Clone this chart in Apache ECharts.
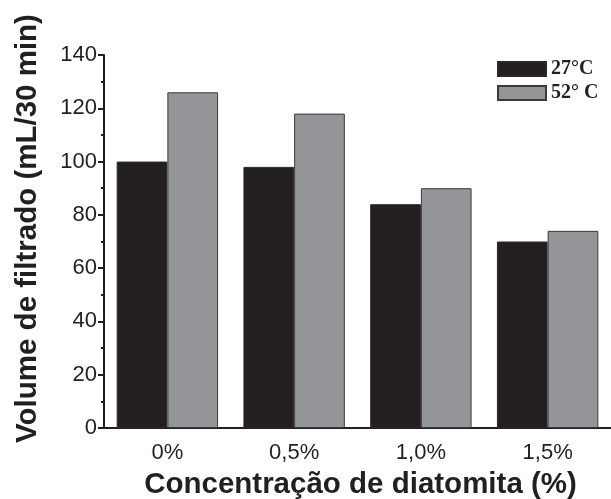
<!DOCTYPE html>
<html>
<head>
<meta charset="utf-8">
<script src="https://cdn.jsdelivr.net/npm/echarts@6/dist/echarts.min.js"></script>
<style>html,body{margin:0;padding:0;background:#fff;}#c{width:611px;height:499px;}</style>
</head>
<body>
<div id="c"></div>
<script>
const categories = ['0%', '0,5%', '1,0%', '1,5%'];
const seriesNames = ['27°C', '52° C'];
const values27 = [100, 98, 84, 70];
const values52 = [126, 118, 90, 74];

const ink = '#231f20';
const chart = echarts.init(document.getElementById('c'), null, {renderer: 'canvas'});
chart.setOption({
  animation: false,
  backgroundColor: '#fff',
  grid: {left: 104, right: 0, top: 55, bottom: 71, containLabel: false, outerBoundsMode: 'none'},
  legend: {
    orient: 'vertical', left: 497, top: 59, itemWidth: 48, itemHeight: 14, itemGap: 4,
    padding: 0, icon: 'rect',
    textStyle: {fontFamily: 'Liberation Serif', fontWeight: 'bold', fontSize: 20, color: ink},
    data: seriesNames
  },
  xAxis: [{
    type: 'category', data: categories, position: 'bottom',
    axisLine: {lineStyle: {color: ink, width: 2}},
    axisTick: {alignWithLabel: true, length: 6, lineStyle: {color: ink, width: 2}},
    axisLabel: {fontFamily: 'Liberation Sans', fontSize: 22, color: ink, margin: 14},
    name: 'Concentração de diatomita (%)', nameLocation: 'middle', nameGap: 42,
    nameTextStyle: {fontFamily: 'Liberation Sans', fontWeight: 'bold', fontSize: 29.5, color: ink, padding: [0, 0, 0, 6]}
  }, {
    type: 'category', data: categories, position: 'bottom',
    axisLine: {show: false},
    axisTick: {length: 3, lineStyle: {color: ink, width: 2}},
    axisLabel: {show: false}
  }],
  yAxis: {
    type: 'value', min: 0, max: 140, interval: 20,
    axisLine: {show: true, lineStyle: {color: ink, width: 2}},
    axisTick: {show: true, length: 6, lineStyle: {color: ink, width: 2}},
    minorTick: {show: true, splitNumber: 2, length: 3, lineStyle: {color: ink, width: 2}},
    splitLine: {show: false},
    axisLabel: {fontFamily: 'Liberation Sans', fontSize: 22, color: ink, margin: 7},
    name: 'Volume de filtrado (mL/30 min)', nameLocation: 'middle', nameGap: 61,
    nameTextStyle: {fontFamily: 'Liberation Sans', fontWeight: 'bold', fontSize: 29.5, color: ink, padding: [0, 0, 0, 26]}
  },
  series: [{
    name: seriesNames[0], type: 'bar', data: values27, barGap: '0%', barCategoryGap: '20%',
    itemStyle: {color: ink, borderColor: '#2a2a2a', borderWidth: 1}
  }, {
    name: seriesNames[1], type: 'bar', data: values52, barGap: '0%', barCategoryGap: '20%',
    itemStyle: {color: '#939598', borderColor: '#3a3a3a', borderWidth: 1}
  }]
});
</script>
</body>
</html>
